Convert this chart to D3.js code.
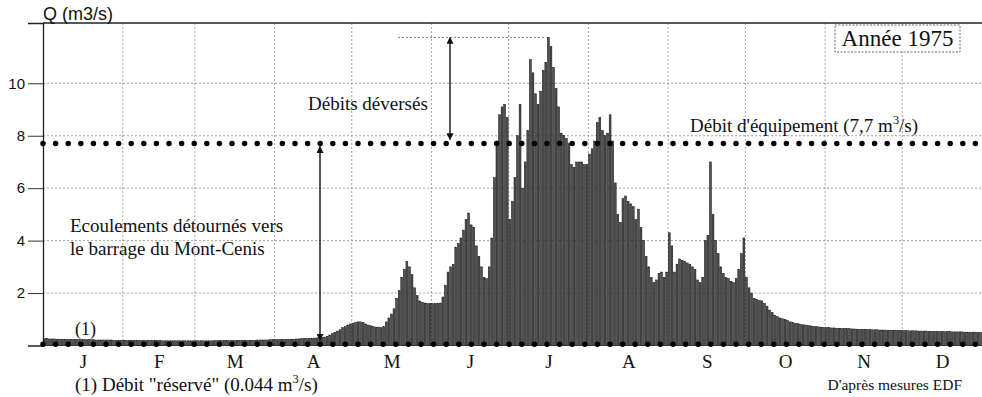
<!DOCTYPE html>
<html>
<head>
<meta charset="utf-8">
<script src="https://cdn.jsdelivr.net/npm/d3@7"></script>
<style>
  body { margin: 0; background: #fff; }
  svg { display: block; }
</style>
</head>
<body>
<svg id="chart" width="982" height="397"></svg>
<script>
// Month initials and lengths (1975 is not a leap year)
const months = ["J", "F", "M", "A", "M", "J", "J", "A", "S", "O", "N", "D"];
const monthDays = [31, 28, 31, 30, 31, 30, 31, 31, 30, 31, 30, 31];

// Daily discharge Q (m3/s), one array per month
const janFlow = [0.26,0.26,0.25,0.25,0.25,0.24,0.24,0.24,0.24,0.23,0.23,0.23,0.23,0.23,0.22,0.22,0.22,0.22,0.22,0.22,0.21,0.21,0.21,0.21,0.21,0.21,0.21,0.20,0.20,0.20,0.20];
const febFlow = [0.20,0.20,0.20,0.20,0.20,0.19,0.19,0.19,0.19,0.19,0.19,0.19,0.19,0.19,0.19,0.18,0.18,0.18,0.18,0.18,0.18,0.18,0.18,0.18,0.18,0.18,0.18,0.18];
const marFlow = [0.18,0.18,0.18,0.18,0.18,0.18,0.18,0.18,0.19,0.19,0.19,0.19,0.19,0.19,0.19,0.19,0.19,0.20,0.20,0.20,0.20,0.20,0.20,0.20,0.21,0.21,0.21,0.21,0.21,0.22,0.22];
const aprFlow = [0.22,0.22,0.23,0.23,0.23,0.24,0.24,0.24,0.25,0.25,0.26,0.26,0.27,0.27,0.28,0.28,0.29,0.29,0.30,0.32,0.35,0.40,0.45,0.50,0.55,0.60,0.68,0.72,0.78,0.82];
const mayFlow = [0.85,0.88,0.90,0.90,0.88,0.82,0.78,0.75,0.72,0.70,0.70,0.68,0.72,0.90,1.05,1.20,1.40,1.80,2.10,2.60,2.90,3.20,3.00,2.70,2.20,1.90,1.70,1.65,1.62,1.60,1.60];
const junFlow = [1.60,1.60,1.60,1.62,1.85,2.30,2.80,3.00,3.10,3.75,3.90,4.10,4.40,4.80,5.05,4.60,4.50,3.80,3.40,3.00,2.60,2.55,3.00,4.10,6.40,7.80,8.80,9.10,9.20,8.70];
const julFlow = [4.80,5.50,6.40,8.00,9.20,6.00,7.00,8.20,10.90,10.40,9.60,9.20,9.70,10.50,10.80,11.75,11.40,10.60,9.80,9.10,8.10,8.00,7.90,7.70,6.90,6.80,7.00,7.00,7.00,6.90,6.90];
const augFlow = [7.30,7.50,7.80,8.50,8.70,8.20,8.00,8.10,8.80,7.80,6.20,5.00,4.70,5.60,5.70,5.50,5.40,5.30,4.80,5.20,4.50,4.00,3.40,3.00,2.60,2.40,2.50,2.75,2.80,2.60,2.80];
const sepFlow = [4.30,3.80,2.80,3.10,3.30,3.25,3.20,3.15,3.10,3.00,2.90,2.50,2.40,2.60,4.00,4.20,7.00,5.00,4.00,3.50,3.00,2.75,2.60,2.55,2.45,2.40,2.55,2.90,3.50,4.10];
const octFlow = [2.60,2.20,2.00,1.80,1.75,1.72,1.70,1.60,1.50,1.35,1.25,1.15,1.10,1.05,1.02,1.00,0.95,0.90,0.88,0.85,0.83,0.81,0.79,0.78,0.76,0.75,0.73,0.72,0.71,0.70,0.69];
const novFlow = [0.68,0.68,0.67,0.67,0.66,0.66,0.65,0.65,0.64,0.64,0.63,0.63,0.62,0.62,0.62,0.61,0.61,0.61,0.60,0.60,0.60,0.59,0.59,0.59,0.58,0.58,0.58,0.58,0.57,0.57];
const decFlow = [0.57,0.57,0.56,0.56,0.56,0.56,0.55,0.55,0.55,0.55,0.54,0.54,0.54,0.54,0.53,0.53,0.53,0.53,0.53,0.52,0.52,0.52,0.52,0.52,0.51,0.51,0.51,0.51,0.51,0.50,0.50];

// Reference levels and axis ticks
const yTicks = [2, 4, 6, 8, 10];
const equipmentFlow = 7.7;   // débit d'équipement
const reservedFlow = 0.044;  // débit réservé
const yMax = 12.3;

const flow = [].concat(janFlow, febFlow, marFlow, aprFlow, mayFlow, junFlow,
                       julFlow, augFlow, sepFlow, octFlow, novFlow, decFlow);
const nDays = d3.sum(monthDays);
const monthEnds = d3.cumsum(monthDays);
const monthStarts = monthEnds.map((e, i) => e - monthDays[i]);

const svg = d3.select("#chart");
const serif = "'Liberation Serif', 'Times New Roman', serif";
const sans = "'Liberation Sans', Arial, sans-serif";

const x = d3.scaleLinear().domain([0, nDays]).range([43, 982]);
const y = d3.scaleLinear().domain([0, yMax]).range([345.5, 23]);

// Grid: horizontal at the ticks, vertical at month boundaries
const grid = svg.append("g").attr("stroke", "#8a8a8a").attr("stroke-width", 0.8)
  .attr("stroke-dasharray", "2 2").attr("fill", "none");
grid.selectAll("line.h").data(yTicks).join("line").attr("class", "h")
  .attr("x1", x(0)).attr("x2", x(nDays)).attr("y1", d => y(d)).attr("y2", d => y(d));
grid.selectAll("line.v").data(monthEnds.slice(0, -1)).join("line").attr("class", "v")
  .attr("x1", d => x(d)).attr("x2", d => x(d)).attr("y1", y(yMax)).attr("y2", y(0));

// Daily bars
svg.append("g").selectAll("rect").data(flow).join("rect")
  .attr("x", (d, i) => x(i) + 0.2)
  .attr("width", (d, i) => Math.max(0.5, x(i + 1) - x(i) - 0.7))
  .attr("y", d => y(d))
  .attr("height", d => y(0) - y(d))
  .attr("fill", "#505050")
  .attr("stroke", "#111")
  .attr("stroke-width", 0.5);

// Frame: top line, left axis, baseline
svg.append("line").attr("x1", x(0)).attr("x2", x(nDays)).attr("y1", y(yMax)).attr("y2", y(yMax))
  .attr("stroke", "#222").attr("stroke-width", 1.3);
svg.append("line").attr("x1", x(0)).attr("x2", x(nDays)).attr("y1", y(0)).attr("y2", y(0))
  .attr("stroke", "#333").attr("stroke-width", 1);

const yAxis = svg.append("g").attr("transform", `translate(${x(0)},0)`)
  .call(d3.axisLeft(y).tickValues(yTicks).tickSize(15).tickPadding(3).tickFormat(d3.format("d")));
yAxis.select(".domain").attr("stroke", "#222").attr("stroke-width", 1.3);
yAxis.selectAll(".tick line").attr("stroke", "#333").attr("stroke-width", 1);
yAxis.selectAll(".tick text").attr("font-family", sans).attr("font-size", 15).attr("fill", "#111");

// Month initials centred in each month
const monthMid = monthStarts.map((s, i) => s + monthDays[i] / 2);
const xAxis = svg.append("g").attr("transform", `translate(0,${y(0)})`)
  .call(d3.axisBottom(x).tickValues(monthMid).tickSize(0).tickPadding(9)
    .tickFormat((d, i) => months[i]));
xAxis.select(".domain").remove();
xAxis.selectAll(".tick text").attr("font-family", serif).attr("font-size", 19).attr("fill", "#111");

// Axis title
svg.append("text").attr("x", x(0)).attr("y", y(yMax) - 3)
  .attr("font-family", sans).attr("font-size", 18).attr("fill", "#111").text("Q (m3/s)");

// Peak level marker above the flood
const peak = d3.max(flow);
svg.append("line").attr("x1", 398).attr("x2", 545).attr("y1", y(peak)).attr("y2", y(peak))
  .attr("stroke", "#666").attr("stroke-width", 0.8).attr("stroke-dasharray", "2 2");

// Reference levels as heavy dotted lines
const levels = [equipmentFlow, reservedFlow];
svg.append("g").selectAll("line").data(levels).join("line")
  .attr("x1", x(0)).attr("x2", x(nDays)).attr("y1", d => y(d)).attr("y2", d => y(d))
  .attr("stroke", "#000").attr("stroke-width", 5.5)
  .attr("stroke-linecap", "round").attr("stroke-dasharray", "0 12.6");

// Arrow markers
const defs = svg.append("defs");
defs.append("marker").attr("id", "head").attr("viewBox", "0 0 10 10")
  .attr("refX", 9).attr("refY", 5).attr("markerWidth", 7).attr("markerHeight", 7)
  .attr("markerUnits", "userSpaceOnUse").attr("orient", "auto-start-reverse")
  .append("path").attr("d", "M0,0 L10,5 L0,10 z").attr("fill", "#111");

svg.append("line").attr("x1", 450).attr("x2", 450)
  .attr("y1", y(peak)).attr("y2", y(equipmentFlow) - 4)
  .attr("stroke", "#111").attr("stroke-width", 1.4)
  .attr("marker-start", "url(#head)").attr("marker-end", "url(#head)");
svg.append("line").attr("x1", 320).attr("x2", 320)
  .attr("y1", y(equipmentFlow) + 3).attr("y2", y(reservedFlow) - 4)
  .attr("stroke", "#111").attr("stroke-width", 1.4)
  .attr("marker-start", "url(#head)").attr("marker-end", "url(#head)");

// Annotations; an object part {sup} is set as a raised exponent
function label(tx, ty, size, parts, anchor) {
  const t = svg.append("text").attr("x", tx).attr("y", ty)
    .attr("font-family", serif).attr("font-size", size).attr("fill", "#111")
    .attr("text-anchor", anchor || "start");
  let raised = false;
  parts.forEach(p => {
    if (typeof p === "string") {
      const s = t.append("tspan").text(p);
      if (raised) { s.attr("dy", size * 0.4); raised = false; }
    } else {
      t.append("tspan").attr("font-size", size * 0.65).attr("dy", -size * 0.4).text(p.sup);
      raised = true;
    }
  });
  return t;
}
label(308, 110, 19, ["Débits déversés"]);
label(690, y(equipmentFlow) - 12, 19, ["Débit d'équipement (7,7 m", {sup: "3"}, "/s)"]);
label(70, 232, 19, ["Ecoulements détournés vers"]);
label(70, 255, 19, ["le barrage du Mont-Cenis"]);
label(75, y(reservedFlow) - 9, 18, ["(1)"]);
label(75, 391, 19, ["(1) Débit \"réservé\" (0.044 m", {sup: "3"}, "/s)"]);
label(962, 390, 15.5, ["D'après mesures EDF"], "end");

// Year box
svg.append("rect").attr("x", 835).attr("y", 25).attr("width", 125).attr("height", 27)
  .attr("fill", "#fff").attr("stroke", "#555").attr("stroke-width", 0.9).attr("stroke-dasharray", "2 1.5");
label(897.5, 46, 23, ["Année 1975"], "middle");
</script>
</body>
</html>
